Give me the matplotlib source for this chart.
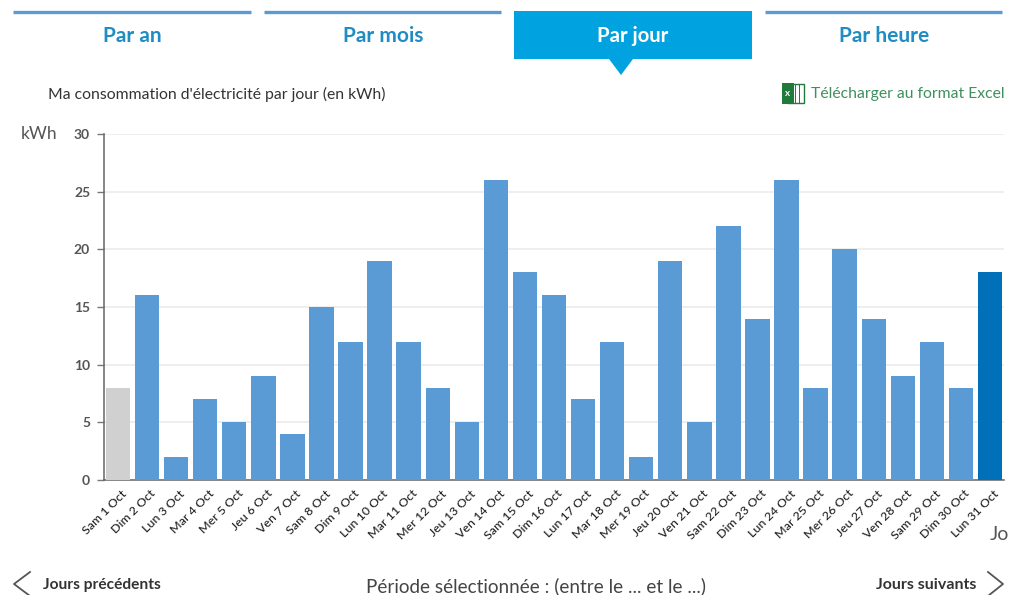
import matplotlib
matplotlib.use("Agg")
import matplotlib.pyplot as plt
from matplotlib.patches import Rectangle, Polygon
from matplotlib.transforms import ScaledTranslation

plt.rcParams['font.family'] = ['Lato', 'DejaVu Sans']

days = ["Sam 1 Oct","Dim 2 Oct","Lun 3 Oct","Mar 4 Oct","Mer 5 Oct","Jeu 6 Oct","Ven 7 Oct","Sam 8 Oct",
        "Dim 9 Oct","Lun 10 Oct","Mar 11 Oct","Mer 12 Oct","Jeu 13 Oct","Ven 14 Oct","Sam 15 Oct","Dim 16 Oct",
        "Lun 17 Oct","Mar 18 Oct","Mer 19 Oct","Jeu 20 Oct","Ven 21 Oct","Sam 22 Oct","Dim 23 Oct","Lun 24 Oct",
        "Mar 25 Oct","Mer 26 Oct","Jeu 27 Oct","Ven 28 Oct","Sam 29 Oct","Dim 30 Oct","Lun 31 Oct"]
kwh = [8,16,2,7,5,9,4,15,12,19,12,8,5,26,18,16,7,12,2,19,5,22,14,26,8,20,14,9,12,8,18]
y_ticks = [0,5,10,15,20,25,30]
tabs = ["Par an","Par mois","Par jour","Par heure"]

W, H = 1017, 595
fig = plt.figure(figsize=(W/100, H/100), dpi=100, facecolor='white')

L, R, T, B = 104, 1004, 134, 480
ax = fig.add_axes([L/W, 1-B/H, (R-L)/W, (B-T)/H])
colors = ['#D0D0D0'] + ['#5B9BD5']*29 + ['#0070B8']
ax.bar(range(len(kwh)), kwh, width=0.84, color=colors, zorder=3)
ax.set_xlim(-0.48, 30.48)
ax.set_ylim(0, 30)
ax.set_yticks(y_ticks)
ax.set_yticklabels([str(v) for v in y_ticks], fontsize=10, color='#555555', fontweight='bold')
ax.yaxis.grid(True, color='#EEEEEE', lw=1.4, zorder=0)
ax.set_axisbelow(True)
ax.set_xticks(range(len(days)))
ax.set_xticklabels(days, rotation=45, ha='right', va='top', rotation_mode='anchor',
                   fontsize=8.9, color='#222222', fontweight='medium')
ax.tick_params(axis='x', length=0, pad=5)
ax.tick_params(axis='y', length=5, width=1, color='#777777', pad=5)
shift = ScaledTranslation(3/100, -1/100, fig.dpi_scale_trans)
for lab in ax.get_xticklabels():
    lab.set_transform(lab.get_transform() + shift)
for s in ('top', 'right'):
    ax.spines[s].set_visible(False)
for s in ('left', 'bottom'):
    ax.spines[s].set_color('#666666')
    ax.spines[s].set_linewidth(1.1)

ov = fig.add_axes([0, 0, 1, 1], facecolor='none', zorder=5)
ov.set_xlim(0, W); ov.set_ylim(H, 0); ov.axis('off')

for x0, x1, label, active in [(13,251,tabs[0],False),(264,501,tabs[1],False),
                              (514,752,tabs[2],True),(765,1002,tabs[3],False)]:
    cx = (x0+x1)/2
    if active:
        ov.add_patch(Rectangle((x0,11), x1-x0, 48, color='#00A3E0', lw=0))
        ov.add_patch(Polygon([(609,59),(633,59),(621,75)], color='#00A3E0', lw=0))
        ov.text(cx, 36, label, ha='center', va='center', fontsize=14.6, color='white', fontweight='bold')
    else:
        ov.plot([x0,x1],[11.5,11.5], color='#5B9BD5', lw=2.4, solid_capstyle='butt')
        ov.text(cx+0.5, 36, label, ha='center', va='center', fontsize=15, color='#1F8CC4', fontweight='bold')

ov.text(48, 94, "Ma consommation d'électricité par jour (en kWh)", ha='left', va='center', fontsize=11.3, color='#333333')
ov.text(21, 134, "kWh", ha='left', va='center', fontsize=12.5, color='#555555')

ov.add_patch(Rectangle((787,84), 17, 19, fc='white', ec='#1E7B3A', lw=1))
ov.plot([795,795],[84,103], color='#1E7B3A', lw=0.7)
ov.plot([799,799],[84,103], color='#1E7B3A', lw=0.7)
ov.add_patch(Rectangle((782,83), 12, 21, color='#1E7B3A', lw=0))
ov.text(788, 94, "x", ha='center', va='center', fontsize=7, color='white', fontweight='bold')
ov.text(811, 94, "Télécharger au format Excel", ha='left', va='center', fontsize=11.3, color='#3F8F5F')
ov.text(990, 534, "Jo", ha='left', va='center', fontsize=14, color='#555555', clip_on=True)

ov.plot([30,14,30],[572,584,596], color='#555555', lw=1.3)
ov.text(43, 585, "Jours précédents", ha='left', va='center', fontsize=11.2, color='#333333', fontweight='bold')
ov.text(536, 586, "Période sélectionnée : (entre le ... et le ...)", ha='center', va='center', fontsize=13.6, color='#444444')
ov.text(976, 585, "Jours suivants", ha='right', va='center', fontsize=11.5, color='#333333', fontweight='bold')
ov.plot([988,1003,988],[572,584,596], color='#555555', lw=1.3)

fig.savefig("out.png", dpi=100)
